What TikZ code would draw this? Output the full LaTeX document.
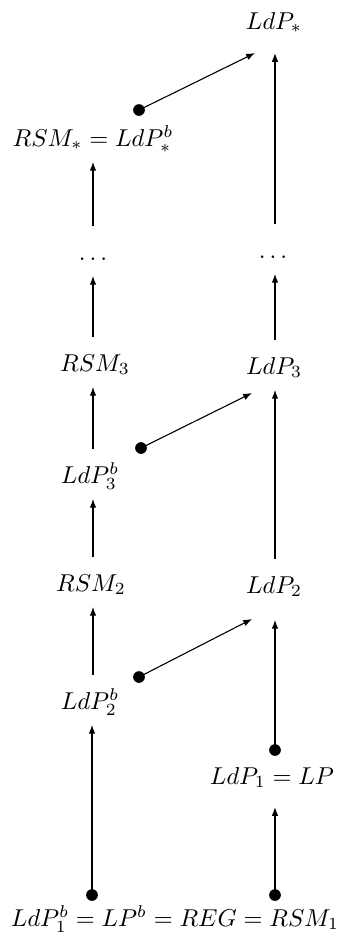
\documentclass[tikz,border=0pt]{standalone}
\usetikzlibrary{arrows.meta}
\begin{document}
\begin{tikzpicture}[x=0.41pt,y=-0.41pt,
  lab/.style={inner xsep=2pt, inner ysep=4.5pt, outer sep=0pt, text height=7pt, text depth=2pt},
  arr/.style={-{Latex[length=3.6pt,width=2.7pt]}, line width=0.45pt},
  arrn/.style={arr, shorten <=2.5pt},
  blob/.style={circle, fill=black, inner sep=0pt, minimum size=4.8pt}]
\useasboundingbox (0,0) rectangle (339,945);
% columns
\coordinate (colL) at (93,0);
\coordinate (colR) at (275,0);
% labels
\node[lab] (ldpS) at (274,23) {$LdP_*$};
\node[lab] (rsmS) at (93,140) {$RSM_* = LdP^b_*$};
\node[lab] (dotsL) at (93,254) {$\ldots$};
\node[lab] (dotsR) at (273,252) {$\ldots$};
\node[lab] (rsm3) at (95,365) {$RSM_3$};
\node[lab] (ldp3) at (274,368) {$LdP_3$};
\node[lab] (ldp3b) at (90,477) {$LdP^b_3$};
\node[lab] (rsm2) at (91,585) {$RSM_2$};
\node[lab] (ldp2) at (274,587) {$LdP_2$};
\node[lab] (ldp2b) at (90,703) {$LdP^b_2$};
\node[lab] (ldp1) at (272,778) {$LdP_1 = LP$};
\node[lab] (bot) at (175,920) {$LdP^b_1 = LP^b = REG = RSM_1$};
% bullets
\node[blob] (d1) at (139,110) {};
\node[blob] (d2) at (141,448) {};
\node[blob] (d3) at (139,677) {};
\node[blob] (d4) at (275,750) {};
\node[blob] (d5) at (92,895) {};
\node[blob] (d6) at (275,895) {};
% diagonal targets
\coordinate (t1) at (255,53);
\coordinate (t2) at (252,393);
\coordinate (t3) at (252,619);
% left column
\draw[arrn] (dotsL.north -| colL) -- (rsmS.south -| colL);
\draw[arrn] (rsm3.north -| colL) -- (dotsL.south -| colL);
\draw[arrn] (ldp3b.north -| colL) -- (rsm3.south -| colL);
\draw[arrn] (rsm2.north -| colL) -- (ldp3b.south -| colL);
\draw[arrn] (ldp2b.north -| colL) -- (rsm2.south -| colL);
\draw[arr] (d5.center) -- (ldp2b.south -| d5);
% right column
\draw[arrn] (dotsR.north -| colR) -- ([yshift=-3.3pt]ldpS.south -| colR);
\draw[arrn] (ldp3.north -| colR) -- (dotsR.south -| colR);
\draw[arrn] (ldp2.north -| colR) -- (ldp3.south -| colR);
\draw[arr] (d4.center) -- ([yshift=-4.5pt]ldp2.south -| d4);
\draw[arr] (d6.center) -- ([yshift=-2.9pt]ldp1.south -| d6);
% diagonals
\draw[arr] (d1.center) -- (t1);
\draw[arr] (d2.center) -- (t2);
\draw[arr] (d3.center) -- (t3);
\end{tikzpicture}
\end{document}
